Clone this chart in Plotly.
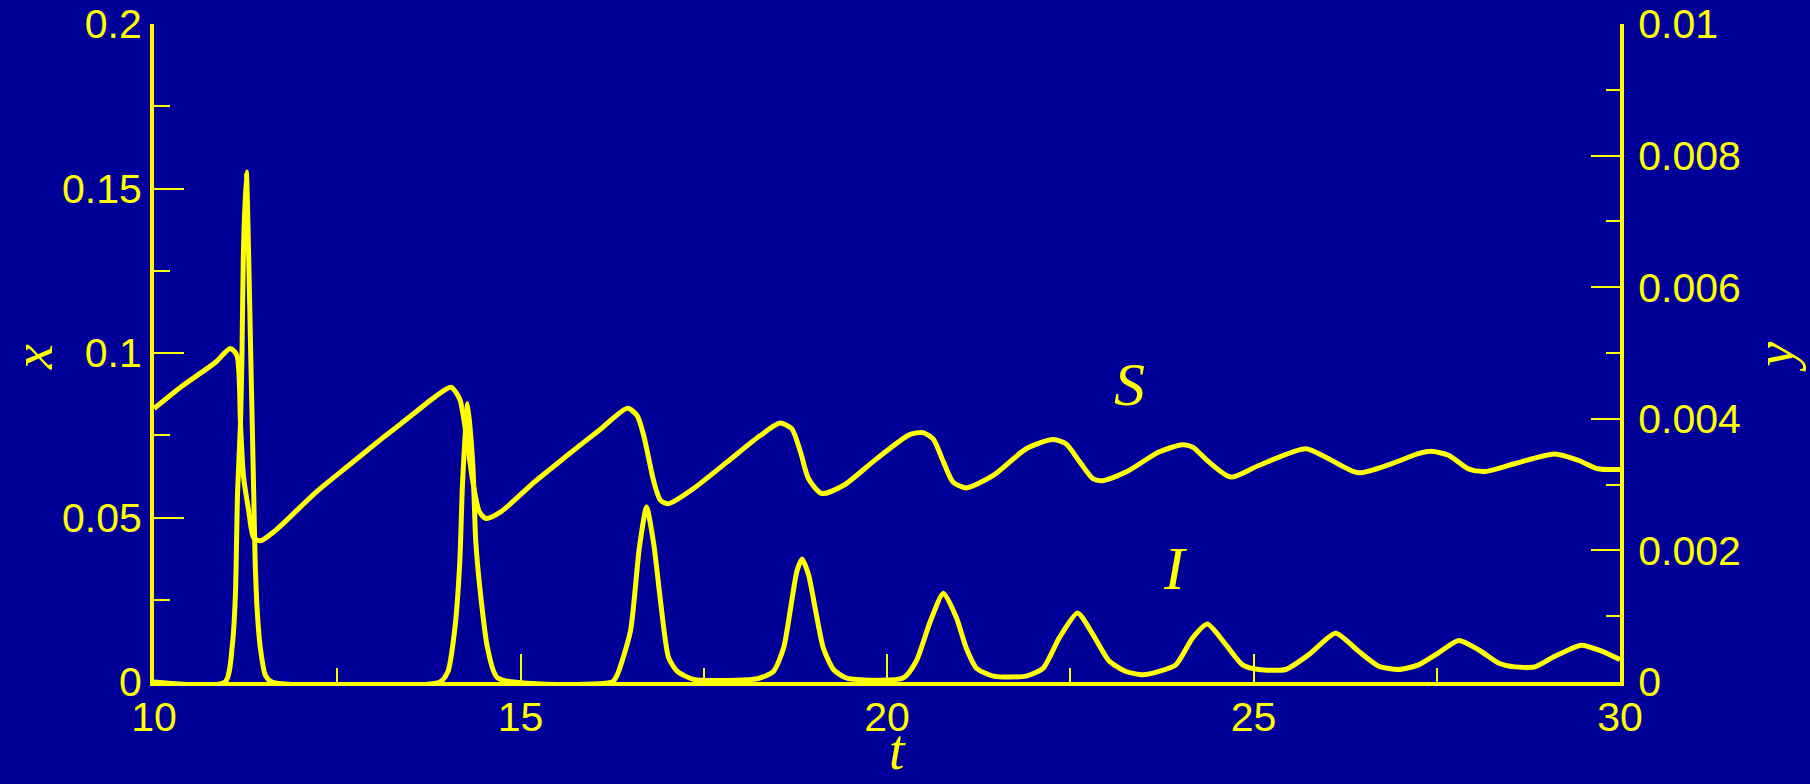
import plotly.graph_objects as go

# ---- data ----
t_S = [10.0, 10.38, 10.84, 11.04, 11.13, 11.18, 11.22, 11.29, 11.36, 11.45, 11.66,
       12.20, 12.66, 13.12, 13.37, 13.83, 14.05, 14.17, 14.26, 14.35, 14.44, 14.53,
       14.73, 15.19, 15.64, 16.10, 16.46, 16.59, 16.68, 16.82, 16.91, 17.02, 17.36,
       17.82, 18.27, 18.54, 18.70, 18.82, 18.93, 19.11, 19.41, 19.86, 20.31, 20.49,
       20.63, 20.77, 20.90, 21.08, 21.45, 21.90, 22.26, 22.44, 22.63, 22.81, 22.94,
       23.26, 23.71, 24.03, 24.17, 24.39, 24.69, 25.07, 25.71, 25.98, 26.43, 26.89,
       27.25, 27.43, 27.66, 27.93, 28.16, 28.57, 29.11, 29.43, 29.70, 30.0]
S_vals = [0.0831, 0.0899, 0.0972, 0.1014, 0.0993, 0.0784, 0.0627, 0.0523, 0.0439, 0.0429, 0.0461,
          0.0575, 0.0659, 0.0742, 0.0785, 0.0866, 0.0896, 0.0860, 0.0750, 0.0608, 0.0517, 0.0497,
          0.0517, 0.0608, 0.0689, 0.0770, 0.0832, 0.0810, 0.0750, 0.0608, 0.0552, 0.0542, 0.0588,
          0.0669, 0.0749, 0.0787, 0.0770, 0.0699, 0.0618, 0.0573, 0.0598, 0.0679, 0.0752, 0.0758,
          0.0739, 0.0669, 0.0608, 0.0590, 0.0628, 0.0709, 0.0737, 0.0724, 0.0669, 0.0618, 0.0612,
          0.0638, 0.0699, 0.0721, 0.0714, 0.0669, 0.0623, 0.0658, 0.0709, 0.0684, 0.0636, 0.0664,
          0.0694, 0.0701, 0.0689, 0.0648, 0.0640, 0.0664, 0.0693, 0.0674, 0.0648, 0.0646]

t_I = [10.0, 10.97, 11.07, 11.11, 11.14, 11.18, 11.20, 11.22, 11.26, 11.29, 11.32, 11.34,
       11.36, 11.38, 11.41, 11.45, 11.52, 11.61, 13.90, 14.01, 14.10, 14.17, 14.21, 14.28,
       14.35, 14.39, 14.46, 14.55, 14.69, 16.25, 16.32, 16.50, 16.62, 16.72, 16.82, 16.91,
       17.02, 17.14, 17.36, 18.23, 18.45, 18.59, 18.70, 18.77, 18.84, 18.93, 19.02,
       19.13, 19.27, 19.45, 20.22, 20.40, 20.59, 20.77, 20.95, 21.08, 21.22, 21.45, 21.90,
       22.13, 22.35, 22.60, 22.81, 23.03, 23.26, 23.49, 23.71, 23.94, 24.17, 24.37, 24.62,
       24.85, 25.07, 25.44, 25.76, 26.12, 26.43, 26.71, 26.98, 27.25, 27.52, 27.80, 28.07,
       28.34, 28.57, 28.84, 29.11, 29.47, 29.75, 30.0]
I_vals = [0.0, 0.0, 0.000575, 0.0013, 0.00288, 0.00393, 0.00495, 0.00655, 0.00775, 0.00655, 0.00495, 0.00393,
          0.00288, 0.00184, 0.00105, 0.000525, 0.0001, 0.0, 0.0, 0.00016, 0.00077, 0.00178, 0.00304, 0.00423,
          0.00329, 0.00213, 0.00128, 0.00052, 0.00006, 0.0, 0.00011, 0.00077, 0.00203, 0.00266, 0.00208, 0.00123,
          0.00037, 0.00016, 0.00004, 0.00005, 0.00016, 0.00052, 0.00123, 0.00168, 0.00187, 0.00163, 0.00112,
          0.00052, 0.00019, 0.00006, 0.00006, 0.00032, 0.00092, 0.00135, 0.00097, 0.00052, 0.00021, 0.00009, 0.00009,
          0.00021, 0.00067, 0.00105, 0.00072, 0.00032, 0.00016, 0.00011, 0.00016, 0.00026, 0.00067, 0.00088, 0.00057,
          0.00026, 0.00019, 0.00019, 0.00042, 0.00074, 0.00047, 0.00024, 0.00019, 0.00026, 0.00044, 0.00063, 0.00049,
          0.00029, 0.00023, 0.00023, 0.00039, 0.00056, 0.00047, 0.00034]

x_ticks = [10, 15, 20, 25, 30]
x_ticktext = ["10", "15", "20", "25", "30"]
yl_ticks = [0, 0.05, 0.1, 0.15, 0.2]
yl_ticktext = ["0", "0.05", "0.1", "0.15", "0.2"]
yr_ticks = [0, 0.002, 0.004, 0.006, 0.008, 0.01]
yr_ticktext = ["0", "0.002", "0.004", "0.006", "0.008", "0.01"]

# ---- style ----
BG = "#000099"
YEL = "#FFFF00"
SERIF = "Liberation Serif, Times New Roman, serif"
TICKFONT = dict(family="Liberation Sans, Arial, sans-serif", size=41, color=YEL)
TITLEFONT = dict(family=SERIF, size=56, color=YEL)
LABELFONT = dict(family=SERIF, size=62, color=YEL)

fig = go.Figure()
fig.add_trace(go.Scatter(x=t_S, y=S_vals, mode="lines", name="S",
                         line=dict(color=YEL, width=5, shape="spline", smoothing=0.7), yaxis="y"))
fig.add_trace(go.Scatter(x=t_I, y=I_vals, mode="lines", name="I",
                         line=dict(color=YEL, width=5, shape="spline", smoothing=0.6), yaxis="y2"))

fig.update_layout(
    width=1810, height=784,
    margin=dict(l=154, r=190, t=24, b=102),
    paper_bgcolor=BG, plot_bgcolor=BG,
    showlegend=False,
    xaxis=dict(
        range=[10, 30], tickvals=x_ticks, ticktext=x_ticktext, automargin=False,
        showline=True, linecolor=YEL, linewidth=4, mirror=False,
        ticks="inside", ticklen=28, tickwidth=2, tickcolor=YEL,
        minor=dict(dtick=2.5, ticks="inside", ticklen=14, tickwidth=2, tickcolor=YEL, showgrid=False),
        showgrid=False, zeroline=False, tickfont=TICKFONT, ticklabelstandoff=-4,
    ),
    yaxis=dict(
        range=[0, 0.2], tickvals=yl_ticks, ticktext=yl_ticktext, automargin=False,
        showline=True, linecolor=YEL, linewidth=4,
        ticks="inside", ticklen=30, tickwidth=2, tickcolor=YEL,
        minor=dict(dtick=0.025, ticks="inside", ticklen=16, tickwidth=2, tickcolor=YEL, showgrid=False),
        showgrid=False, zeroline=False, tickfont=TICKFONT, ticklabelstandoff=0,
    ),
    yaxis2=dict(
        range=[0, 0.01], tickvals=yr_ticks, ticktext=yr_ticktext, automargin=False,
        overlaying="y", side="right",
        showline=True, linecolor=YEL, linewidth=4,
        ticks="inside", ticklen=29, tickwidth=2, tickcolor=YEL,
        minor=dict(dtick=0.001, ticks="inside", ticklen=14, tickwidth=2, tickcolor=YEL, showgrid=False),
        showgrid=False, zeroline=False, tickfont=TICKFONT, ticklabelstandoff=6,
    ),
    annotations=[
        # axis titles
        dict(x=0.5075, y=-0.152, xref="paper", yref="paper", text="<i>t</i>", showarrow=False,
             xanchor="center", yanchor="bottom", borderpad=0, font=TITLEFONT),
        dict(x=-0.1044, y=0.494, xref="paper", yref="paper", text="<i>x</i>", showarrow=False,
             xanchor="left", yanchor="middle", textangle=-90, borderpad=0, font=TITLEFONT),
        dict(x=1.1275, y=0.494, xref="paper", yref="paper", text="<i>y</i>", showarrow=False,
             xanchor="right", yanchor="middle", textangle=-90, borderpad=0, font=TITLEFONT),
        # curve labels
        dict(x=23.31, y=0.0906, xref="x", yref="y", text="<i>S</i>", showarrow=False, font=LABELFONT),
        dict(x=23.94, y=0.0348, xref="x", yref="y", text="<i>I</i>", showarrow=False, font=LABELFONT),
    ],
)

fig.write_html("out.html")
